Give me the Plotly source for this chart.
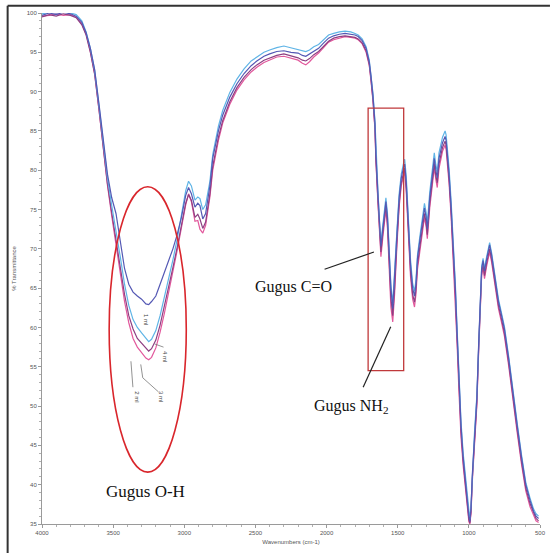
import plotly.graph_objects as go

# Wavenumbers (cm-1)
wavenumber = [4000, 3950, 3900, 3850, 3800, 3760, 3720, 3690, 3660, 3630, 3600, 3570, 3540, 3510, 3480,
              3450, 3420, 3390, 3360, 3330, 3300, 3270, 3250, 3230, 3200, 3170, 3140, 3110, 3080, 3050,
              3020, 2990, 2970, 2950, 2925, 2905, 2890, 2870, 2850, 2820, 2800, 2760, 2730, 2680, 2630,
              2580, 2530, 2490, 2440, 2400, 2350, 2300, 2250, 2200, 2170, 2146, 2120, 2090, 2056, 2020,
              1986, 1950, 1910, 1870, 1830, 1800, 1778, 1750, 1722, 1700, 1688, 1674, 1660, 1653, 1639,
              1628, 1618, 1605, 1595, 1583, 1572, 1560, 1548, 1535, 1522, 1505, 1490, 1475, 1460, 1451,
              1440, 1425, 1410, 1395, 1382, 1372, 1361, 1345, 1330, 1312, 1300, 1292, 1275, 1258, 1243,
              1232, 1222, 1210, 1201, 1185, 1167, 1160, 1153, 1139, 1125, 1110, 1095, 1083, 1070, 1055,
              1040, 1025, 1012, 1000, 993, 985, 975, 960, 944, 931, 920, 910, 900, 890, 875,
              865, 854, 840, 820, 792, 770, 750, 720, 690, 660, 630, 600, 570, 545, 528, 510]

t_1ml = [99.7, 100.0, 99.8, 100.1, 99.9, 99.6, 98.8, 97.5, 95.5, 92.8, 88.5, 84.0, 79.5, 76.5, 74.5,
         71.0, 67.5, 65.5, 64.5, 64.0, 63.6, 63.0, 62.9, 63.3, 64.0, 65.5, 67.0, 68.5, 70.0, 71.8,
         74.0, 76.8, 77.8, 77.0, 75.3, 75.8, 75.5, 73.8, 74.5, 78.0, 81.5, 85.0, 87.0, 89.3, 91.0,
         92.3, 93.3, 93.9, 94.5, 94.8, 95.1, 95.2, 95.0, 94.9, 94.6, 94.5, 94.8, 95.2, 95.5, 96.2,
         96.8, 97.1, 97.3, 97.4, 97.3, 97.2, 97.0, 96.5, 95.5, 93.8, 92.0, 89.5, 86.0, 82.0, 77.0,
         73.0, 70.3, 72.5, 74.5, 76.0, 74.0, 69.5, 65.0, 62.4, 66.0, 72.0, 76.5, 79.0, 80.3, 80.8,
         78.5, 73.0, 68.0, 65.0, 64.0, 65.5, 68.8, 71.0, 73.0, 75.2, 74.0, 72.5, 76.5, 79.5, 81.5,
         80.0, 79.0, 81.5, 82.4, 83.5, 84.3, 83.8, 82.4, 79.5, 75.5, 70.5, 65.0, 59.5, 53.5, 47.5,
         43.5, 40.5, 38.0, 36.0, 35.3, 37.0, 41.5, 46.5, 51.0, 58.0, 63.0, 67.5, 68.5, 67.2, 68.7,
         69.5, 70.5, 69.2, 66.5, 63.3, 61.5, 59.8, 56.0, 51.5, 47.5, 43.5, 40.0, 38.0, 36.6, 36.0, 35.7]

t_4ml = [99.9, 100.1, 100.0, 100.2, 100.0, 99.8, 99.0, 97.6, 95.5, 92.7, 88.3, 83.6, 79.0, 75.5, 72.5,
         69.0, 65.5, 62.8, 61.0, 60.0, 59.3, 58.6, 58.2, 58.5, 59.6, 61.5, 63.8, 66.2, 68.6, 71.2,
         74.2, 77.4, 78.6, 78.0, 76.2, 76.6, 76.4, 75.0, 75.6, 78.6, 82.0, 85.6, 87.6, 89.9, 91.6,
         92.9, 93.9, 94.4, 95.0, 95.3, 95.6, 95.8, 95.6, 95.4, 95.2, 95.1, 95.3, 95.7, 96.0, 96.6,
         97.2, 97.4, 97.6, 97.7, 97.6, 97.4, 97.2, 96.7, 95.7, 94.0, 92.2, 89.8, 86.3, 82.4, 77.4,
         73.5, 70.8, 73.0, 75.0, 76.5, 74.5, 70.0, 65.5, 63.0, 66.5, 72.5, 77.0, 79.5, 80.8, 81.4,
         79.2, 73.6, 68.6, 65.6, 64.6, 66.0, 69.2, 71.5, 73.6, 75.8, 74.6, 73.2, 77.2, 80.2, 82.2,
         80.7, 79.8, 82.2, 83.0, 84.2, 85.0, 84.5, 83.1, 80.2, 76.2, 71.2, 65.6, 60.0, 54.0, 48.0,
         44.0, 41.0, 38.4, 36.3, 35.6, 37.3, 41.8, 46.8, 51.3, 58.3, 63.3, 67.8, 68.8, 67.5, 69.0,
         69.8, 70.8, 69.5, 66.8, 63.6, 61.8, 60.1, 56.3, 51.8, 47.8, 43.8, 40.3, 38.3, 36.9, 36.3, 36.0]

t_3ml = [99.5, 99.8, 99.6, 99.9, 99.7, 99.4, 98.5, 97.2, 95.0, 92.2, 87.8, 83.0, 78.3, 74.6, 71.2,
         67.6, 64.2, 61.5, 59.8, 58.6, 58.0, 57.3, 57.0, 57.3, 58.4, 60.3, 62.6, 65.0, 67.6, 70.2,
         73.0, 75.8, 76.9, 76.2, 74.0, 74.4, 73.8, 72.6, 73.4, 77.0, 80.5, 84.2, 86.3, 88.7, 90.5,
         91.8, 92.8, 93.4, 94.0, 94.3, 94.6, 94.8, 94.5, 94.3, 94.0, 93.9, 94.2, 94.7, 95.1, 95.8,
         96.4, 96.8, 97.0, 97.1, 97.0, 96.9, 96.7, 96.2, 95.2, 93.5, 91.6, 89.0, 85.4, 81.3, 76.2,
         72.2, 69.6, 72.0, 74.0, 75.5, 73.3, 68.6, 63.8, 61.5, 65.0, 71.2, 75.8, 78.4, 79.8, 80.3,
         77.8, 72.2, 67.2, 64.2, 63.2, 64.8, 68.0, 70.2, 72.3, 74.5, 73.3, 71.8, 75.8, 78.8, 80.8,
         79.3, 78.4, 80.8, 81.7, 82.9, 83.7, 83.2, 81.8, 78.9, 74.8, 69.8, 64.2, 58.8, 52.8, 46.8,
         43.0, 40.0, 37.5, 35.6, 35.1, 36.6, 41.0, 46.0, 50.5, 57.4, 62.4, 67.0, 68.0, 66.6, 68.2,
         69.0, 70.0, 68.7, 66.0, 62.8, 61.0, 59.3, 55.5, 51.0, 47.0, 43.0, 39.6, 37.6, 36.3, 35.7, 35.4]

t_2ml = [99.6, 99.7, 99.9, 99.7, 99.8, 99.5, 98.6, 97.3, 95.1, 92.3, 87.8, 82.9, 78.1, 74.2, 70.6,
         66.8, 63.3, 60.6, 58.6, 57.5, 56.8, 56.1, 55.9, 56.2, 57.4, 59.4, 61.8, 64.4, 67.1, 69.8,
         72.7, 75.6, 77.0, 76.0, 73.5, 73.6, 72.5, 72.0, 73.0, 76.6, 80.0, 83.8, 86.0, 88.4, 90.2,
         91.5, 92.5, 93.1, 93.7, 94.0, 94.4, 94.5, 94.2, 94.0, 93.6, 93.4, 93.8, 94.4, 94.9, 95.6,
         96.3, 96.6, 96.8, 97.0, 96.9, 96.8, 96.6, 96.1, 95.0, 93.3, 91.4, 88.8, 85.2, 81.0, 75.8,
         71.6, 69.0, 71.4, 73.5, 75.0, 72.6, 67.6, 62.6, 60.7, 64.2, 70.6, 75.3, 78.0, 79.4, 79.9,
         77.2, 71.6, 66.5, 63.6, 62.6, 64.2, 67.4, 69.6, 71.8, 74.0, 72.8, 71.3, 75.2, 78.2, 80.3,
         78.8, 77.8, 80.2, 81.2, 82.4, 83.2, 82.7, 81.2, 78.3, 74.2, 69.0, 63.4, 58.0, 52.0, 46.0,
         42.4, 39.4, 37.0, 35.3, 35.0, 36.3, 40.6, 45.6, 50.0, 57.0, 62.0, 66.6, 67.6, 66.2, 67.8,
         68.6, 69.6, 68.3, 65.6, 62.4, 60.6, 58.9, 55.1, 50.6, 46.6, 42.6, 39.2, 37.2, 36.0, 35.4, 35.2]

series_names = ["1 ml", "4 ml", "3 ml", "2 ml"]
series_values = [t_1ml, t_4ml, t_3ml, t_2ml]
series_colors = ["#5458b4", "#5fb4e6", "#8e3f82", "#e2589c"]

x_ticks = [4000, 3500, 3000, 2500, 2000, 1500, 1000, 500]
y_ticks = [35, 40, 45, 50, 55, 60, 65, 70, 75, 80, 85, 90, 95, 100]

fig = go.Figure()
# draw lower curves first so the top one sits above
for name, vals, col in reversed(list(zip(series_names, series_values, series_colors))):
    fig.add_trace(go.Scatter(x=wavenumber, y=vals, mode="lines", name=name,
                             line=dict(color=col, width=1.2), showlegend=False))

axis_font = dict(family="Arial, Liberation Sans, sans-serif", size=6, color="#555555")
title_font = dict(family="Arial, Liberation Sans, sans-serif", size=6, color="#555555")

fig.update_layout(
    width=555, height=553,
    margin=dict(l=42, r=9, t=13, b=28),
    paper_bgcolor="white", plot_bgcolor="white",
    xaxis=dict(range=[4000, 500], tickvals=x_ticks, ticktext=[str(v) for v in x_ticks],
               showgrid=False, zeroline=False, showline=True, linecolor="#9a9a9a", linewidth=1,
               ticks="outside", ticklen=3, tickcolor="#9a9a9a", tickfont=axis_font,
               minor=dict(dtick=100, ticks="outside", ticklen=2, tickcolor="#b0b0b0"),
               title=dict(text="Wavenumbers (cm-1)", font=title_font, standoff=4)),
    yaxis=dict(range=[35, 100], tickvals=y_ticks, showgrid=False, zeroline=False,
               showline=True, linecolor="#9a9a9a", linewidth=1,
               ticks="outside", ticklen=3, tickcolor="#9a9a9a", tickfont=axis_font,
               minor=dict(dtick=1, ticks="outside", ticklen=2, tickcolor="#b0b0b0"),
               title=dict(text="% Transmittance", font=title_font, standoff=9)),
)

# outer frame (left and top edges visible)
fig.add_shape(type="line", xref="paper", yref="paper", x0=-0.069, x1=-0.069, y0=-0.06, y1=1.014,
              line=dict(color="#333333", width=2))
fig.add_shape(type="line", xref="paper", yref="paper", x0=-0.069, x1=1.02, y0=1.014, y1=1.014,
              line=dict(color="#333333", width=2))

# red highlight ellipse and rectangle
fig.add_shape(type="circle", xref="x", yref="y", x0=3528, x1=2986, y0=41.6, y1=77.9,
              line=dict(color="#d9262c", width=1.6))
fig.add_shape(type="rect", xref="x", yref="y", x0=1708, x1=1458, y0=54.5, y1=87.9,
              line=dict(color="#c0393b", width=1.3))

# leader lines
fig.add_shape(type="line", xref="x", yref="y", x0=2014, y0=67.4, x1=1667, y1=69.6,
              line=dict(color="#222222", width=1.2))
fig.add_shape(type="line", xref="x", yref="y", x0=1743, y0=52.4, x1=1549, y1=60.1,
              line=dict(color="#222222", width=1.2))
# small ml leader lines
fig.add_shape(type="line", xref="x", yref="y", x0=3208, y0=57.9, x1=3146, y1=57.5,
              line=dict(color="#777777", width=0.8))
fig.add_shape(type="line", xref="x", yref="y", x0=3375, y0=55.7, x1=3361, y1=52.4,
              line=dict(color="#777777", width=0.8))
fig.add_shape(type="path", xref="x", yref="y", path="M 3306 55.3 L 3292 53.6 L 3181 51.8",
              line=dict(color="#777777", width=0.8))

serif = "Liberation Serif, Times New Roman, serif"
fig.add_annotation(x=3271, y=39.1, text="Gugus O-H", showarrow=False,
                   font=dict(family=serif, size=17, color="#111111"))
fig.add_annotation(x=2229, y=65.1, text="Gugus C=O", showarrow=False,
                   font=dict(family=serif, size=16, color="#111111"))
fig.add_annotation(x=1826, y=49.9, text="Gugus NH<sub>2</sub>", showarrow=False,
                   font=dict(family=serif, size=16, color="#111111"))

small = dict(family="Arial, sans-serif", size=6, color="#444444")
for label, xx, yy in [("1 ml", 3264, 61.0), ("4 ml", 3132, 56.3), ("2 ml", 3330, 51.2), ("3 ml", 3160, 51.2)]:
    fig.add_annotation(x=xx, y=yy, text=label, showarrow=False, textangle=90, font=small)

fig.write_html("out.html")
